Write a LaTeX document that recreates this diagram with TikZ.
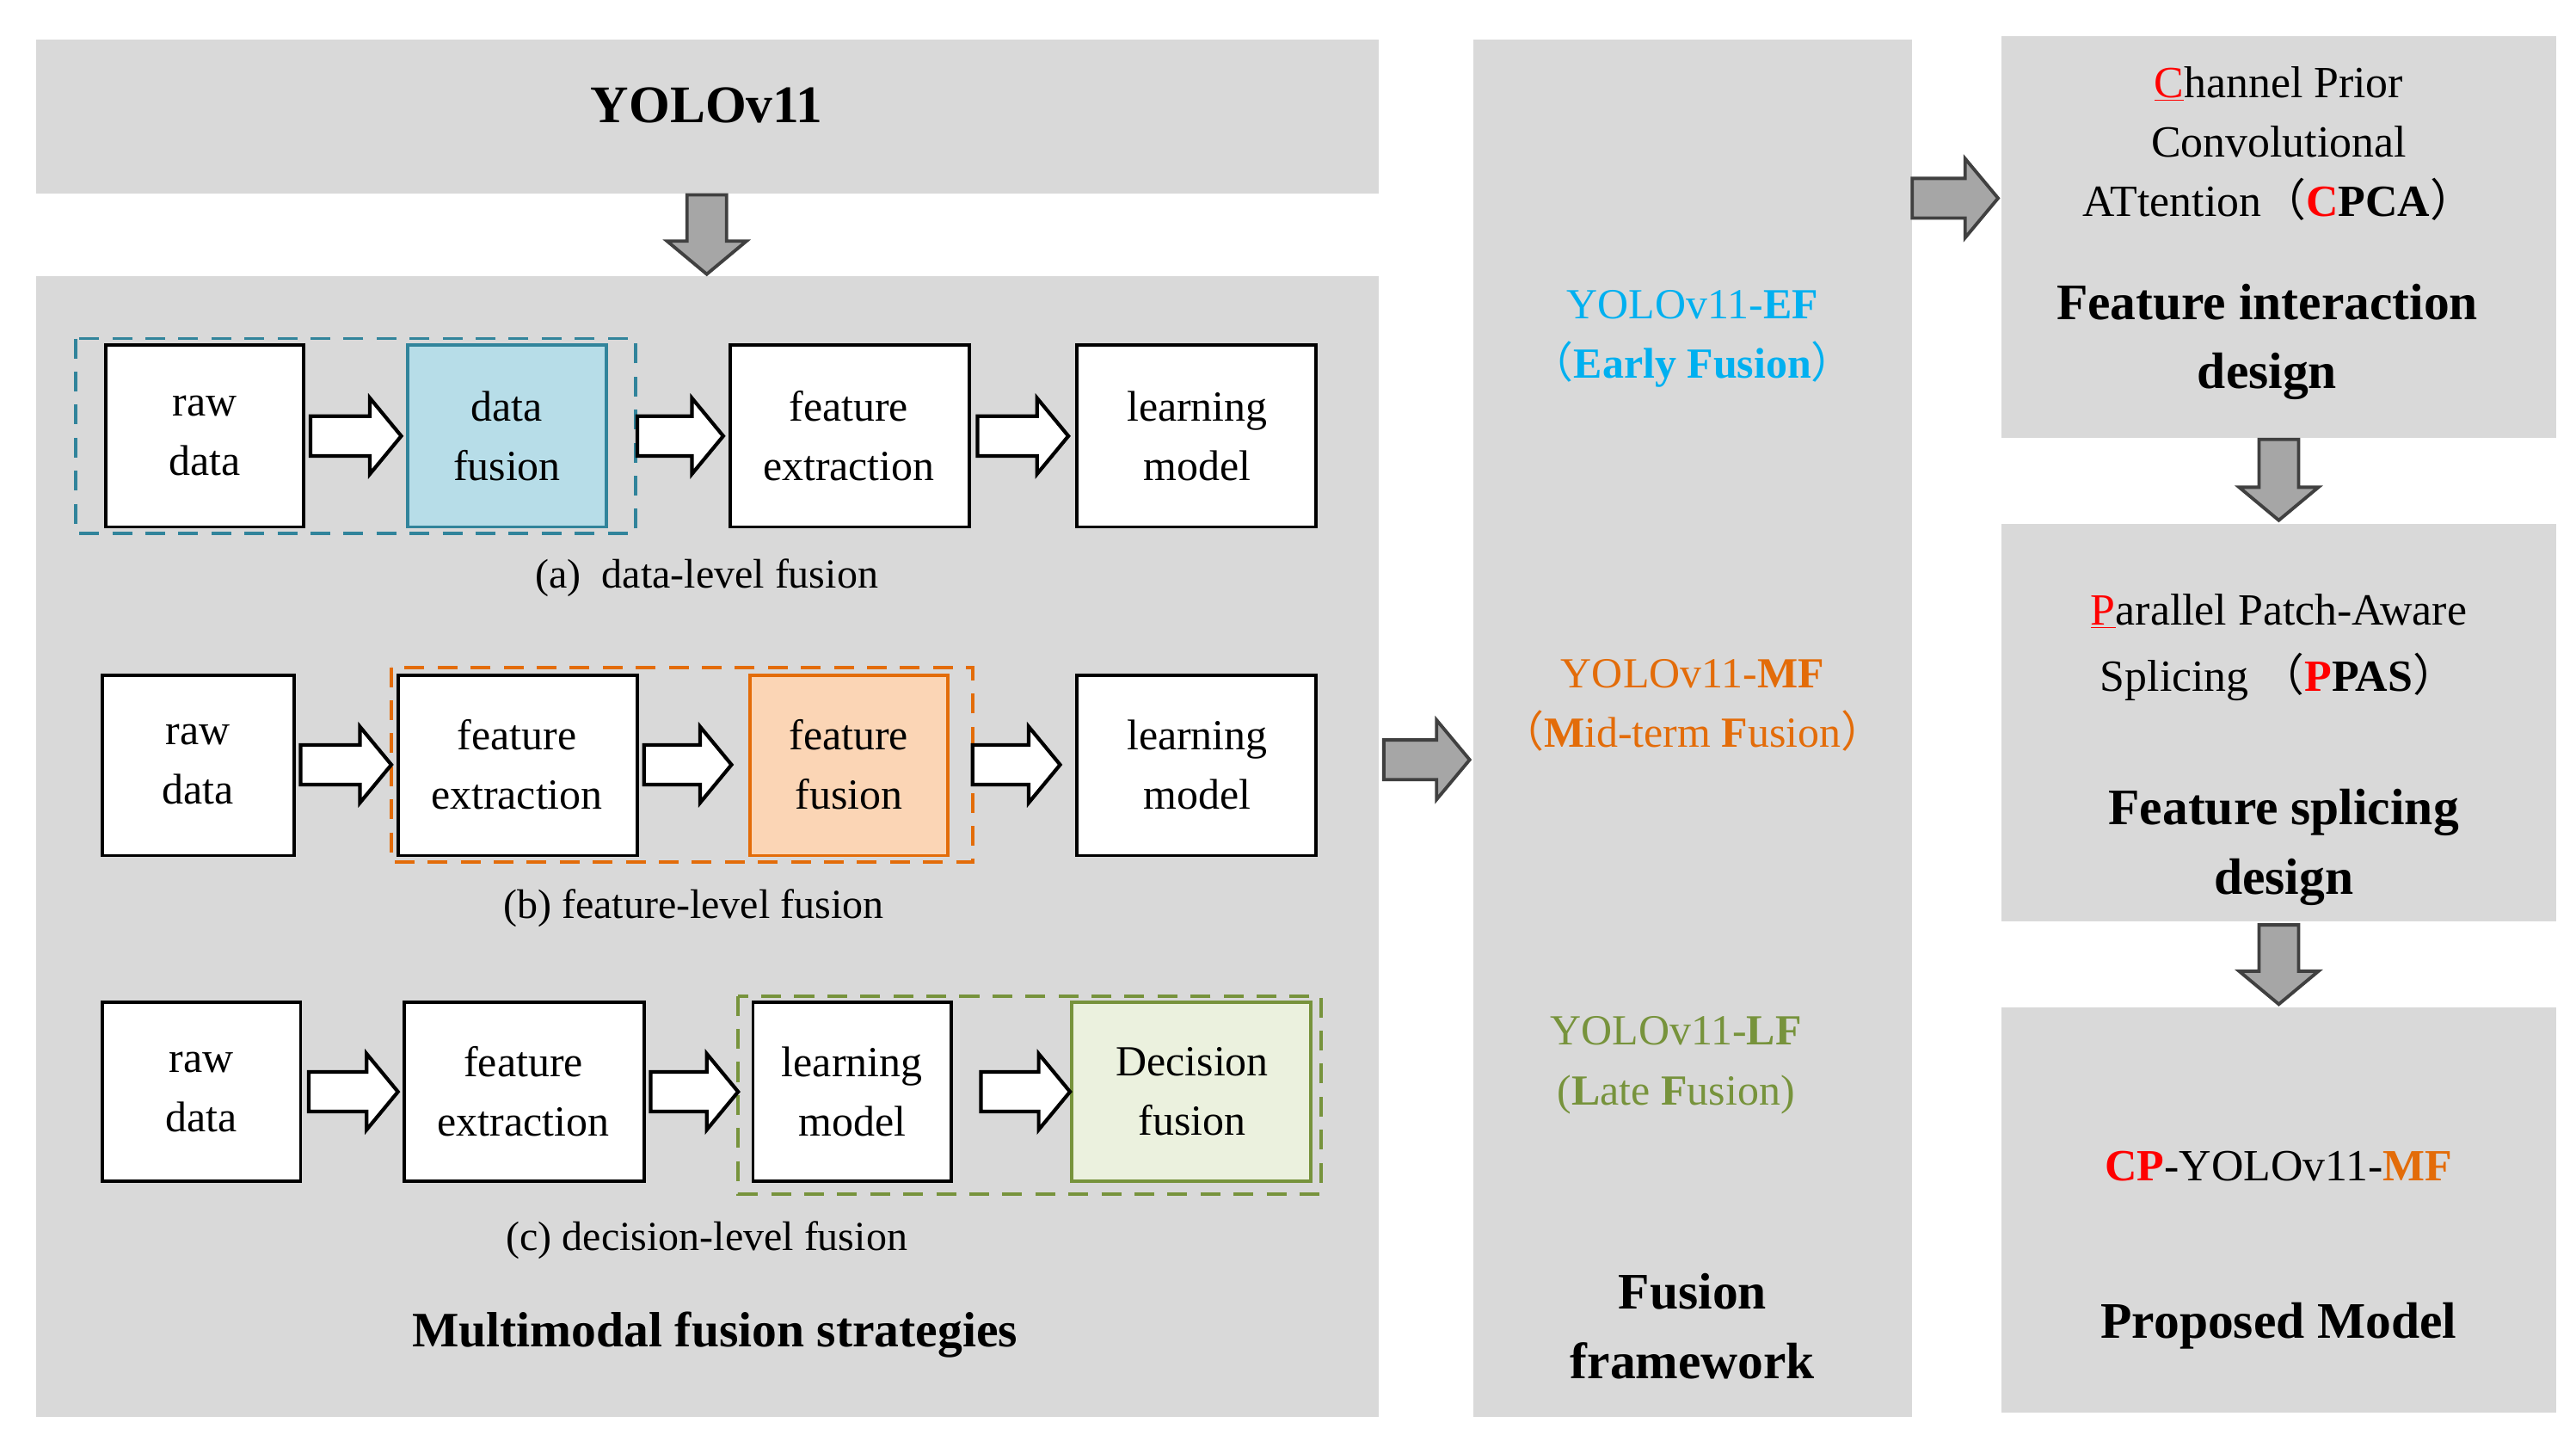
\documentclass[tikz,border=0pt]{standalone}
\usepackage{fontspec}
\setmainfont{Liberation Serif}
\newfontfamily\cjk{Noto Sans CJK SC}
\usetikzlibrary{positioning}
\definecolor{bg}{HTML}{D9D9D9}
\definecolor{garrow}{HTML}{A6A6A6}
\definecolor{efc}{HTML}{00B0F0}
\definecolor{mfc}{HTML}{E36C09}
\definecolor{lfc}{HTML}{77933C}
\definecolor{tealb}{HTML}{31849B}
\definecolor{bluef}{HTML}{B7DDE8}
\definecolor{orf}{HTML}{FBD5B5}
\definecolor{grf}{HTML}{EBF1DE}
\newcommand{\lp}{{\cjk （}}
\newcommand{\rp}{{\cjk ）}}
\newcommand{\warrR}[3]{% x1 x2 y
 \draw[line width=2.2pt,fill=white,line join=miter] ({#1},{#3-12}) -- ({#2-19},{#3-12}) -- ({#2-19},{#3-23}) -- ({#2},{#3}) -- ({#2-19},{#3+23}) -- ({#2-19},{#3+12}) -- ({#1},{#3+12}) -- cycle;}
\newcommand{\garrD}[3]{% x y1 y2
 \draw[line width=2pt,fill=garrow,draw=black!75] ({#1-12},{#2}) -- ({#1+12},{#2}) -- ({#1+12},{#3-20}) -- ({#1+24},{#3-20}) -- ({#1},{#3}) -- ({#1-24},{#3-20}) -- ({#1-12},{#3-20}) -- cycle;}
\newcommand{\garrR}[3]{% x1 x2 y
 \draw[line width=2pt,fill=garrow,draw=black!75] ({#1},{#3-12}) -- ({#2-20},{#3-12}) -- ({#2-20},{#3-24}) -- ({#2},{#3}) -- ({#2-20},{#3+24}) -- ({#2-20},{#3+12}) -- ({#1},{#3+12}) -- cycle;}
\tikzset{
 panel/.style={fill=bg,draw=none},
 bx/.style={draw=black,line width=2pt,fill=white},
 dsh/.style={line width=2pt,dash pattern=on 12pt off 8pt},
 capt/.style={font=\fontsize{25}{30}\selectfont},
 txt/.style={align=center,font=\fontsize{26}{36}\selectfont},
 hd/.style={align=center,font=\fontsize{31}{42}\selectfont\bfseries},
}
\begin{document}
\begin{tikzpicture}[x=1pt,y=-1pt]
\useasboundingbox (0,0) rectangle (1560,872);
\fill[white] (0,0) rectangle (1560,872);
% panels
\fill[panel] (22,24) rectangle (835,117);
\fill[panel] (22,167) rectangle (835,858);
\fill[panel] (892,24) rectangle (1158,858);
\fill[panel] (1212,22) rectangle (1548,265);
\fill[panel] (1212,317) rectangle (1548,558);
\fill[panel] (1212,610) rectangle (1548,855);
\node[font=\fontsize{32}{36}\selectfont\bfseries] (yolo) at (428,64) {YOLOv11};
\garrD{428}{118}{166}
% row a
\draw[dsh,tealb] (46,205) rectangle (385,323);
\draw[bx] (64,209) rectangle (184,319); \node[txt] (ra) at (124,264) {raw\\data};
\draw[bx,draw=tealb,fill=bluef] (247,209) rectangle (367,319); \node[txt] (dfa) at (307,264) {data\\fusion};
\draw[bx] (442,209) rectangle (587,319); \node[txt] (fea) at (514,264) {feature\\extraction};
\draw[bx] (652,209) rectangle (797,319); \node[txt] (lma) at (725,264) {learning\\model};
\warrR{188}{243}{264} \warrR{386}{438}{264} \warrR{592}{647}{264}
\node[capt] (capa) at (428,350) {(a)\ \ data-level fusion};
% row b
\draw[dsh,mfc] (237,404) rectangle (589,522);
\draw[bx] (62,409) rectangle (178,518); \node[txt] (rb) at (120,463) {raw\\data};
\draw[bx] (241,409) rectangle (386,518); \node[txt] (feb) at (313,463) {feature\\extraction};
\draw[bx,draw=mfc,fill=orf] (454,409) rectangle (574,518); \node[txt] (ffb) at (514,463) {feature\\fusion};
\draw[bx] (652,409) rectangle (797,518); \node[txt] (lmb) at (725,463) {learning\\model};
\warrR{182}{237}{463} \warrR{390}{443}{463} \warrR{589}{642}{463}
\node[capt] (capb) at (420,550) {(b) feature-level fusion};
% row c
\draw[dsh,lfc] (447,603) rectangle (800,723);
\draw[bx] (62,607) rectangle (182,715); \node[txt] (rc) at (122,661) {raw\\data};
\draw[bx] (245,607) rectangle (390,715); \node[txt] (fec) at (317,661) {feature\\extraction};
\draw[bx] (456,607) rectangle (576,715); \node[txt] (lmc) at (516,661) {learning\\model};
\draw[bx,draw=lfc,fill=grf] (649,607) rectangle (794,715); \node[txt] (dfc) at (722,661) {Decision\\fusion};
\warrR{187}{241}{661} \warrR{394}{447}{661} \warrR{594}{648}{661}
\node[capt] (capc) at (428,751) {(c) decision-level fusion};
\node[font=\fontsize{30}{36}\selectfont\bfseries] (mfs) at (433,808) {Multimodal fusion strategies};
% middle
\garrR{838}{890}{460}
\node[txt,text=efc] (ef) at (1025,205) {YOLOv11-\textbf{EF}\\\lp\textbf{Early Fusion}\rp};
\node[txt,text=mfc] (mf) at (1025,427) {YOLOv11-\textbf{MF}\\\lp\textbf{M}id-term \textbf{F}usion\rp};
\node[txt,text=lfc] (lf) at (1015,645) {YOLOv11-\textbf{LF}\\(\textbf{L}ate \textbf{F}usion)};
\node[hd] (ff) at (1025,803) {Fusion\\framework};
% right
\garrR{1158}{1210}{120}
\node[txt,font=\fontsize{27}{36}\selectfont] (cpca) at (1380,87) {\textcolor{red}{\underline{C}}hannel Prior\\Convolutional\\ATtention\lp\textbf{\textcolor{red}{C}PCA}\rp};
\node[hd] (fid) at (1373,207) {Feature interaction\\design};
\garrD{1380}{266}{315}
\node[txt,font=\fontsize{27}{40}\selectfont] (ppas) at (1380,392) {\textcolor{red}{\underline{P}}arallel Patch-Aware\\Splicing\ \lp\textbf{\textcolor{red}{P}PAS}\rp};
\node[hd] (fsd) at (1383,513) {Feature splicing\\design};
\garrD{1380}{560}{608}
\node[font=\fontsize{27}{32}\selectfont] (cp) at (1380,706) {\textbf{\textcolor{red}{CP}}-YOLOv11-\textbf{\textcolor{mfc}{MF}}};
\node[font=\fontsize{31}{36}\selectfont\bfseries] (pm) at (1380,803) {Proposed Model};
\end{tikzpicture}
\end{document}
